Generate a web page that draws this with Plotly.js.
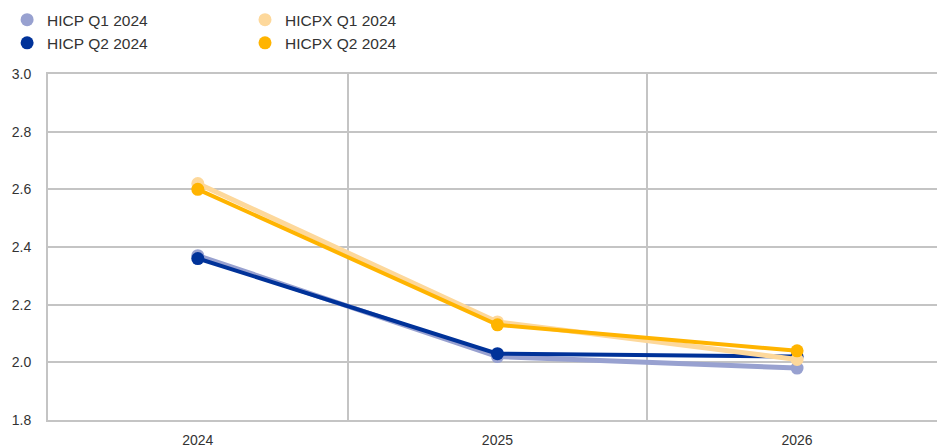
<!DOCTYPE html>
<html>
<head>
<meta charset="utf-8">
<script src="https://cdn.plot.ly/plotly-3.0.1.min.js"></script>
<style>html,body{margin:0;padding:0;background:#fff;}#chart{width:937px;height:447px;}</style>
</head>
<body>
<div id="chart"></div>
<script>
const years = ['2024', '2025', '2026'];
const hicpQ1 = [2.37, 2.02, 1.98];
const hicpQ2 = [2.36, 2.03, 2.02];
const hicpxQ1 = [2.62, 2.14, 2.01];
const hicpxQ2 = [2.60, 2.13, 2.04];
const seriesNames = ['HICP Q1 2024', 'HICP Q2 2024', 'HICPX Q1 2024', 'HICPX Q2 2024'];
const seriesValues = [hicpQ1, hicpQ2, hicpxQ1, hicpxQ2];
const colors = ['#98a1d0', '#003299', '#fdd89b', '#ffb400'];
const legendIds = ['legend', 'legend', 'legend2', 'legend2'];

const xs = years.map((_, i) => i);
const traces = [];
seriesValues.forEach((vals, k) => {
  traces.push({
    x: xs, y: vals, type: 'scatter', mode: 'lines+markers',
    line: {color: colors[k], width: (k % 2 === 0) ? 5 : 4},
    marker: {color: colors[k], size: 13},
    showlegend: false, hoverinfo: 'skip'
  });
});
seriesValues.forEach((vals, k) => {
  traces.push({
    x: [null], y: [null], type: 'scatter', mode: 'markers',
    marker: {color: colors[k], size: 13},
    name: seriesNames[k], legend: legendIds[k], showlegend: true
  });
});
// invisible trace for category-boundary gridlines on x2
traces.push({x: [null], y: [null], xaxis: 'x2', yaxis: 'y', showlegend: false, hoverinfo: 'skip'});

const font = {family: 'Liberation Sans, Arial, sans-serif', size: 14, color: '#333333'};
const legendFont = {family: 'Liberation Sans, Arial, sans-serif', size: 15.5, color: '#333333'};
const gridColor = '#c4c4c4';
const layout = {
  width: 937, height: 447,
  margin: {l: 48, r: 0, t: 74, b: 27},
  paper_bgcolor: '#ffffff', plot_bgcolor: '#ffffff',
  font: font,
  xaxis: {
    range: [-0.5, 2.467], tickvals: xs, ticktext: years,
    showgrid: false, zeroline: false,
    showline: true, mirror: true, linecolor: gridColor, linewidth: 2,
    ticks: 'outside', ticklen: 6, tickcolor: 'rgba(0,0,0,0)',
    tickfont: font
  },
  xaxis2: {
    overlaying: 'x', range: [-0.5, 2.467], tickvals: [0.5, 1.5],
    showgrid: true, gridcolor: gridColor, gridwidth: 2,
    showticklabels: false, zeroline: false, showline: false
  },
  yaxis: {
    range: [1.8, 3.0], dtick: 0.2, tick0: 1.8, tickformat: '.1f',
    showgrid: true, gridcolor: gridColor, gridwidth: 2,
    zeroline: false, showline: true, linecolor: gridColor, linewidth: 2,
    ticks: 'outside', ticklen: 12, tickcolor: 'rgba(0,0,0,0)',
    tickfont: font
  },
  legend: {
    x: -0.046, xanchor: 'left', y: 1.205, yanchor: 'top',
    orientation: 'v', font: legendFont, bgcolor: 'rgba(0,0,0,0)',
    tracegroupgap: 0, itemclick: false
  },
  legend2: {
    x: 0.2216, xanchor: 'left', y: 1.205, yanchor: 'top',
    orientation: 'v', font: legendFont, bgcolor: 'rgba(0,0,0,0)',
    tracegroupgap: 0, itemclick: false
  }
};
Plotly.newPlot('chart', traces, layout, {displayModeBar: false, staticPlot: true});
</script>
</body>
</html>
